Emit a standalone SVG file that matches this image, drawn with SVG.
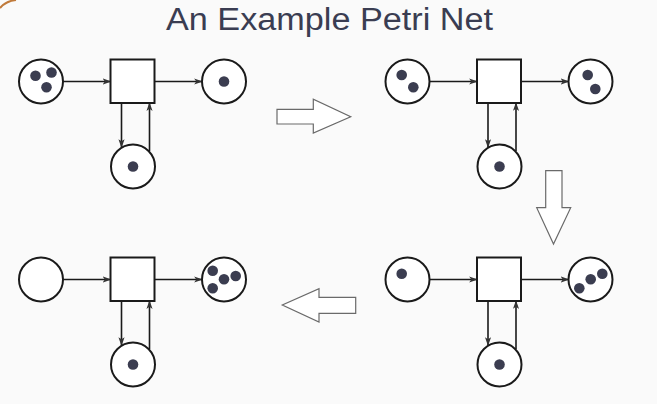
<svg xmlns="http://www.w3.org/2000/svg" width="657" height="404" viewBox="0 0 657 404">
<defs>
<style>
.place{fill:#ffffff;stroke:#1a1a1a;stroke-width:2}
.trans{fill:#ffffff;stroke:#1a1a1a;stroke-width:2}
.tok{fill:#3b3d50}
.arc{fill:none;stroke:#1a1a1a;stroke-width:1.6;marker-end:url(#ah)}
.big{fill:#ffffff;stroke:#6a6a6a;stroke-width:1.2}
.title{font-family:"Liberation Sans",Arial,sans-serif;font-size:31px;fill:#3a3d52}
</style>
<marker id="ah" viewBox="0 0 10 8" refX="9" refY="4" markerWidth="9" markerHeight="7" markerUnits="userSpaceOnUse" orient="auto">
<path d="M0,0.5 L10,4 L0,7.5 L2.5,4 z" fill="#333"/>
</marker>
</defs>
<rect width="657" height="404" fill="#fafafa"/>
<path d="M0,8 Q6,1 16,0" fill="none" stroke="#c07a3a" stroke-width="2"/>
<text class="title" x="329.5" y="29.5" text-anchor="middle" textLength="327" lengthAdjust="spacingAndGlyphs">An Example Petri Net</text>

<!-- Net 1 -->
<g id="net1">
<g id="connectors1">
<path class="arc" d="M63,81.5 H110.5"/>
<path class="arc" d="M154.5,81.5 H202"/>
<path class="arc" d="M121.5,103 V147"/>
<path class="arc" d="M149.5,151 V103"/>
</g>
<g id="n1_pin"><circle class="place" cx="41" cy="81.5" r="22"/><circle class="tok" cx="35.5" cy="75.7" r="5.3"/><circle class="tok" cx="51.5" cy="72.5" r="5.3"/><circle class="tok" cx="46.5" cy="87.3" r="5.3"/></g>
<g id="n1_t"><rect class="trans" x="110.5" y="59.5" width="44" height="43.5"/></g>
<g id="n1_pout"><circle class="place" cx="224" cy="81.5" r="22"/><circle class="tok" cx="224" cy="81.5" r="5.3"/></g>
<g id="n1_ploop"><circle class="place" cx="133" cy="166.5" r="22"/><circle class="tok" cx="133" cy="166.5" r="5.3"/></g>
</g>

<!-- Net 2 -->
<g id="net2" transform="translate(366.5,0)">
<g id="connectors2">
<path class="arc" d="M63,81.5 H110.5"/>
<path class="arc" d="M154.5,81.5 H202"/>
<path class="arc" d="M121.5,103 V147"/>
<path class="arc" d="M149.5,151 V103"/>
</g>
<g id="n2_pin"><circle class="place" cx="41" cy="81.5" r="22"/><circle class="tok" cx="35.2" cy="75" r="5.3"/><circle class="tok" cx="46.8" cy="87.3" r="5.3"/></g>
<g id="n2_t"><rect class="trans" x="110.5" y="59.5" width="44" height="43.5"/></g>
<g id="n2_pout"><circle class="place" cx="224" cy="81.5" r="22"/><circle class="tok" cx="221.2" cy="75" r="5.3"/><circle class="tok" cx="228.8" cy="89" r="5.3"/></g>
<g id="n2_ploop"><circle class="place" cx="133" cy="166.5" r="22"/><circle class="tok" cx="133" cy="166.5" r="5.3"/></g>
</g>

<!-- Net 3 -->
<g id="net3" transform="translate(0,198)">
<g id="connectors3">
<path class="arc" d="M63,81.5 H110.5"/>
<path class="arc" d="M154.5,81.5 H202"/>
<path class="arc" d="M121.5,103 V147"/>
<path class="arc" d="M149.5,151 V103"/>
</g>
<g id="n3_pin"><circle class="place" cx="41" cy="81.5" r="22"/></g>
<g id="n3_t"><rect class="trans" x="110.5" y="59.5" width="44" height="43.5"/></g>
<g id="n3_pout"><circle class="place" cx="224" cy="81.5" r="22"/><circle class="tok" cx="212.7" cy="72.7" r="5.3"/><circle class="tok" cx="224" cy="81.3" r="5.3"/><circle class="tok" cx="235.7" cy="78" r="5.3"/><circle class="tok" cx="212.7" cy="90.3" r="5.3"/></g>
<g id="n3_ploop"><circle class="place" cx="133" cy="166.5" r="22"/><circle class="tok" cx="133" cy="166.5" r="5.3"/></g>
</g>

<!-- Net 4 -->
<g id="net4" transform="translate(366.5,198)">
<g id="connectors4">
<path class="arc" d="M63,81.5 H110.5"/>
<path class="arc" d="M154.5,81.5 H202"/>
<path class="arc" d="M121.5,103 V147"/>
<path class="arc" d="M149.5,151 V103"/>
</g>
<g id="n4_pin"><circle class="place" cx="41" cy="81.5" r="22"/><circle class="tok" cx="35.2" cy="75.7" r="5.3"/></g>
<g id="n4_t"><rect class="trans" x="110.5" y="59.5" width="44" height="43.5"/></g>
<g id="n4_pout"><circle class="place" cx="224" cy="81.5" r="22"/><circle class="tok" cx="212.8" cy="90.3" r="5.3"/><circle class="tok" cx="224.2" cy="81.3" r="5.3"/><circle class="tok" cx="235.8" cy="75.7" r="5.3"/></g>
<g id="n4_ploop"><circle class="place" cx="133" cy="166.5" r="22"/><circle class="tok" cx="133" cy="166.5" r="5.3"/></g>
</g>

<!-- Step arrows -->
<g id="step_arrows">
<polygon id="step1" class="big" points="277,109.3 313.3,109.3 313.3,99.3 350.7,116.7 313.3,133 313.3,124 277,124"/>
<polygon id="step2" class="big" points="545.7,170.7 562,170.7 562,207.7 570.7,207.7 553.5,244 536.7,207.7 545.7,207.7"/>
<polygon id="step3" class="big" points="355.7,297.3 319,297.3 319,288.7 282.3,305 319,322 319,313.3 355.7,313.3"/>
</g>
</svg>
